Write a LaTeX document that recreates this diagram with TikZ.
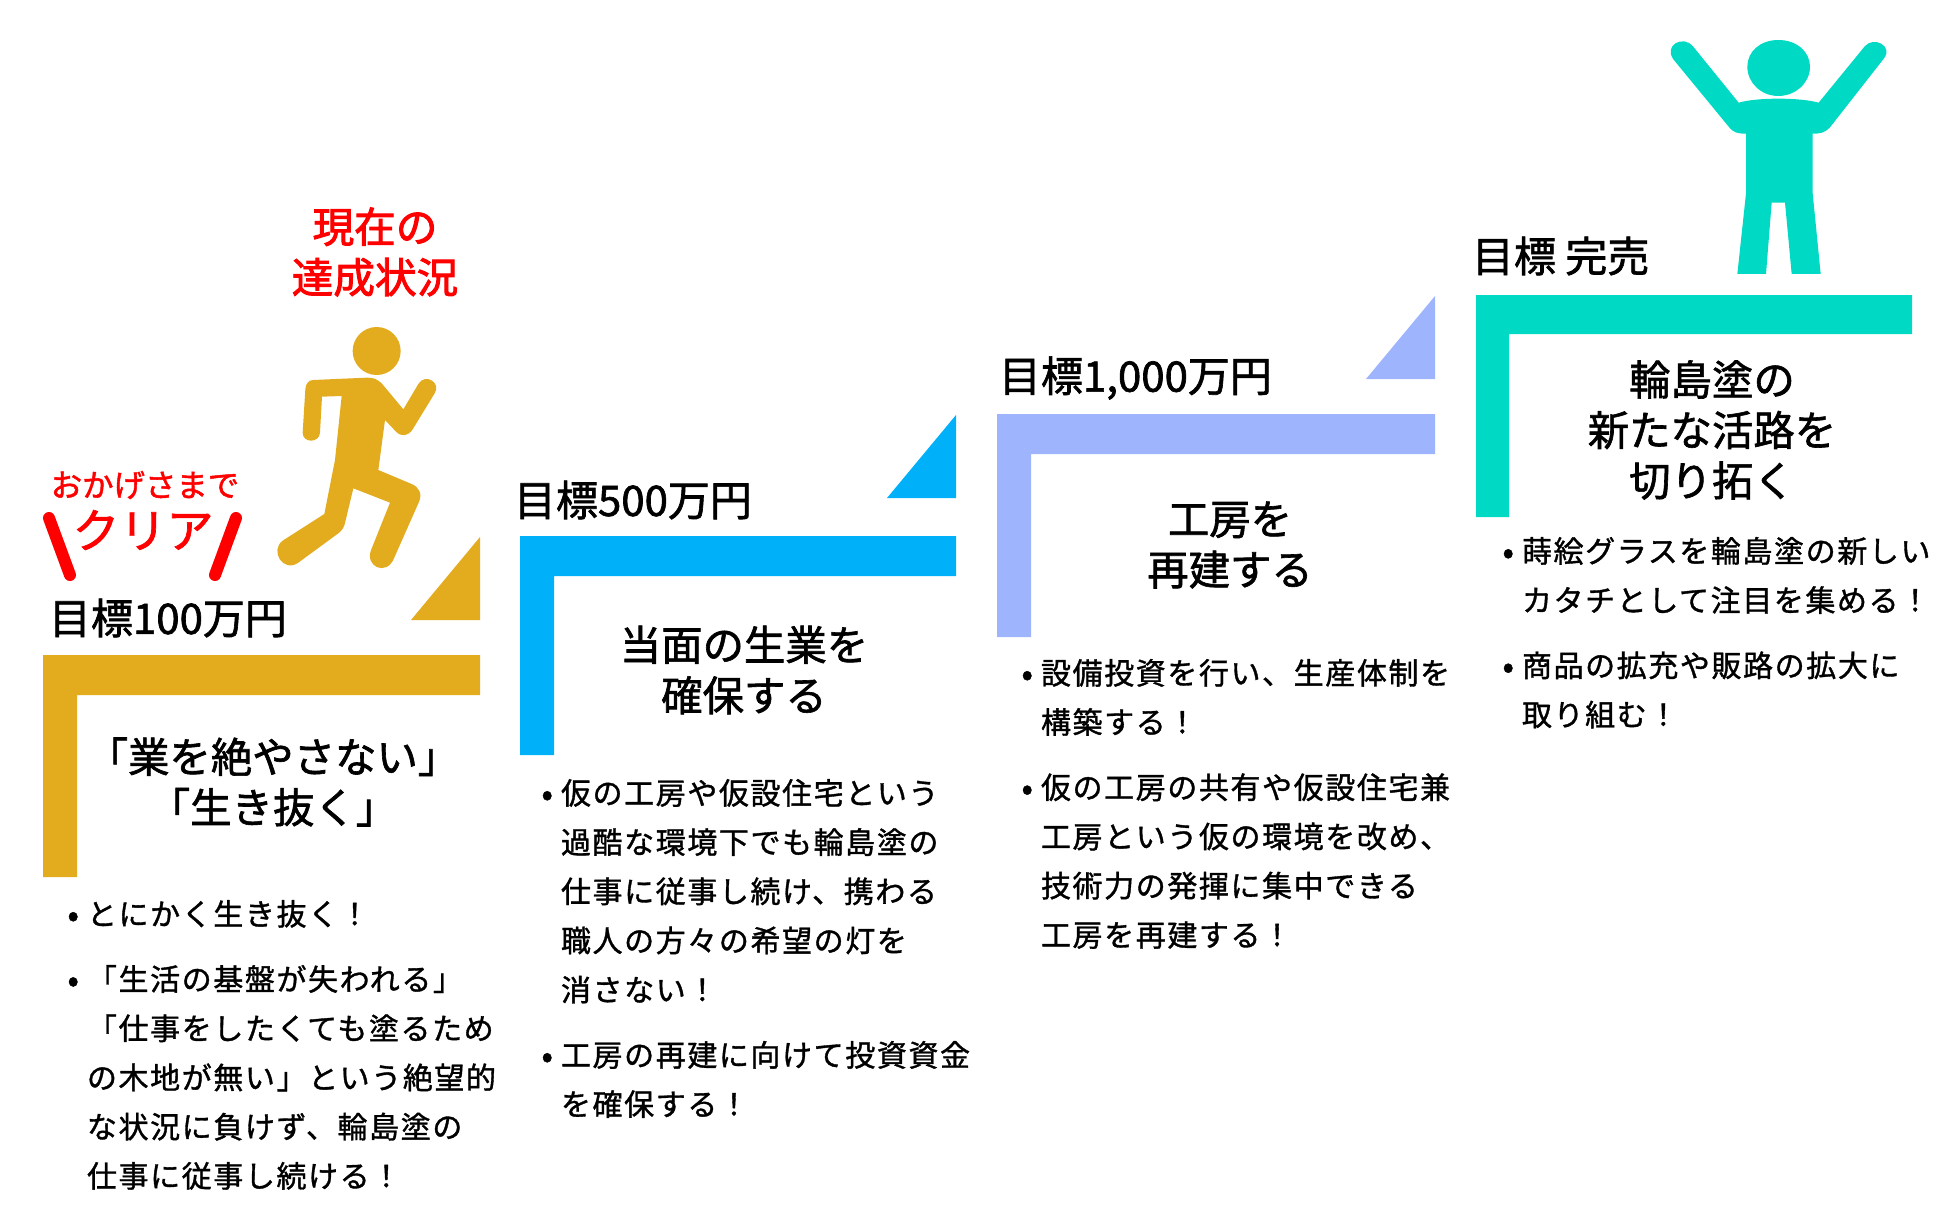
\documentclass[tikz,border=0pt]{standalone}
\usepackage{fontspec}
\setmainfont{Noto Sans CJK JP}
\newfontfamily\bodyjp[LetterSpace=5.3,FakeBold=1.2]{Noto Sans CJK JP}
\newfontfamily\headjp[FakeBold=1.5]{Noto Sans CJK JP}
\newfontfamily\redjp[FakeBold=2.2]{Noto Sans CJK JP}
\definecolor{stepGold}{HTML}{E3AB1E}
\definecolor{stepBlue}{HTML}{00B0F9}
\definecolor{stepLavender}{HTML}{9EB4FC}
\definecolor{stepTeal}{HTML}{00D9C3}
\definecolor{markRed}{HTML}{FF0000}
\newcommand{\bul}{\llap{\raisebox{-1.5pt}{\fontsize{34}{34}\selectfont•}\hspace{8pt}}}

\begin{document}
\begin{tikzpicture}[
  x=1pt, y=-1pt,
  every node/.style={inner sep=0pt, outer sep=0pt},
  goal/.style={anchor=west, font=\headjp\fontsize{42}{48}\selectfont},
  title/.style={align=center, font=\headjp\fontsize{41.4}{50.5}\selectfont},
  listing/.style={anchor=north west, align=left, font=\bodyjp\fontsize{30}{49.2}\selectfont},
  cheer/.style={align=center, text=markRed},
  slash/.style={draw=markRed, line width=12pt, line cap=round},
]
\useasboundingbox (0,0) rectangle (1950,1225);

% Steps and corner triangles
\foreach \col/\l/\t/\r/\b/\tri in {stepGold/43/655/480/877/537, stepBlue/520/536/956/755/415,
    stepLavender/997/414/1435/637/296} {
  \fill[\col] (\l,\t) -- (\r,\t) -- (\r,\t+40) -- (\l+34,\t+40) -- (\l+34,\b) -- (\l,\b) -- cycle;
  \fill[\col] (\r,\tri) -- (\r,\tri+83) -- (\r-69,\tri+83) -- cycle;
}
\fill[stepTeal] (1476,295) -- (1912,295) -- (1912,334) -- (1509,334) -- (1509,517) -- (1476,517) -- cycle;

% Runner on the first step
\begin{scope}[shift={(0,180)}, scale=0.33333]
  \fill[stepGold] (1130,513) circle (72);
  \fill[stepGold] (940,600) .. controls (925,600) and (917,612) .. (916,628)
    -- (908,758) .. controls (908,790) and (958,790) .. (960,758)
    -- (966,650) -- (1025,648) -- (1005,840) -- (973,1002) -- (848,1082)
    .. controls (808,1112) and (850,1180) .. (895,1148)
    -- (1015,1060) .. controls (1028,1050) and (1033,1040) .. (1036,1025)
    -- (1060,925) -- (1170,968) -- (1114,1108)
    .. controls (1092,1160) and (1160,1190) .. (1182,1135)
    -- (1256,968) .. controls (1268,942) and (1258,922) .. (1235,912)
    -- (1135,870) -- (1155,720) -- (1188,755)
    .. controls (1205,772) and (1225,768) .. (1238,748)
    -- (1304,640) .. controls (1325,608) and (1275,578) .. (1255,612)
    -- (1210,688) -- (1145,610) .. controls (1130,596) and (1120,593) .. (1100,593) -- cycle;
\end{scope}

% Winner on the last step
\begin{scope}[shift={(1450,20)}, scale=0.33333]
  \fill[stepTeal] (985,60) .. controls (1040,60) and (1080,95) .. (1080,140)
    .. controls (1080,190) and (1035,228) .. (985,228)
    .. controls (935,228) and (892,190) .. (892,140)
    .. controls (892,95) and (930,60) .. (985,60) -- cycle;
  \fill[stepTeal] (866,248) .. controls (920,232) and (1050,232) .. (1106,248)
    -- (1245,78) .. controls (1272,48) and (1330,78) .. (1302,115)
    -- (1140,322) .. controls (1125,338) and (1112,341) .. (1088,341)
    -- (1088,520) -- (1112,762) -- (1025,762) -- (1005,548) -- (965,548)
    -- (948,762) -- (862,762) -- (888,520) -- (888,341)
    .. controls (862,341) and (850,338) .. (836,320)
    -- (670,118) .. controls (640,75) and (700,45) .. (728,78) -- cycle;
\end{scope}

% Goals
\node[goal] (goalA) at (49,618) {目標100万円};
\node[goal] (goalB) at (514,500) {目標500万円};
\node[goal] (goalC) at (999,378) {目標1,000万円};
\node[goal] (goalD) at (1472,256) {目標 完売};

% Step titles
\node[title] (titleA) at (273,782) {「業を絶やさない」\\「生き抜く」};
\node[title] (titleB) at (744,670) {当面の生業を\\確保する};
\node[title] (titleC) at (1230,545) {工房を\\再建する};
\node[title] (titleD) at (1712,430) {輪島塗の\\新たな活路を\\切り拓く};

% Lists
\node[listing] (listA) at (87,900) {\bul とにかく生き抜く！\\[16pt]
  \bul「生活の基盤が失われる」\\
  「仕事をしたくても塗るため\\
  の木地が無い」という絶望的\\
  な状況に負けず、輪島塗の\\
  仕事に従事し続ける！};
\node[listing] (listB) at (561,779) {\bul 仮の工房や仮設住宅という\\
  過酷な環境下でも輪島塗の\\
  仕事に従事し続け、携わる\\
  職人の方々の希望の灯を\\
  消さない！\\[16pt]
  \bul 工房の再建に向けて投資資金\\
  を確保する！};
\node[listing] (listC) at (1041,659) {\bul 設備投資を行い、生産体制を\\
  構築する！\\[16pt]
  \bul 仮の工房の共有や仮設住宅兼\\
  工房という仮の環境を改め、\\
  技術力の発揮に集中できる\\
  工房を再建する！};
\node[listing] (listD) at (1522,537) {\bul 蒔絵グラスを輪島塗の新しい\\
  カタチとして注目を集める！\\[16pt]
  \bul 商品の拡充や販路の拡大に\\
  取り組む！};

% Achievement marks
\node[cheer, font=\redjp\fontsize{41.6}{50.5}\selectfont] (nowMark) at (375,252) {現在の\\達成状況};
\node[cheer, font=\headjp\fontsize{31.4}{36}\selectfont] (thanksMark) at (145,485) {おかげさまで};
\node[cheer, font=\headjp\fontsize{47}{50}\selectfont] (clearMark) at (143,530) {クリア};
\draw[slash] (49,518) -- (70,575);
\draw[slash] (236,518) -- (215,575);

\end{tikzpicture}
\end{document}
